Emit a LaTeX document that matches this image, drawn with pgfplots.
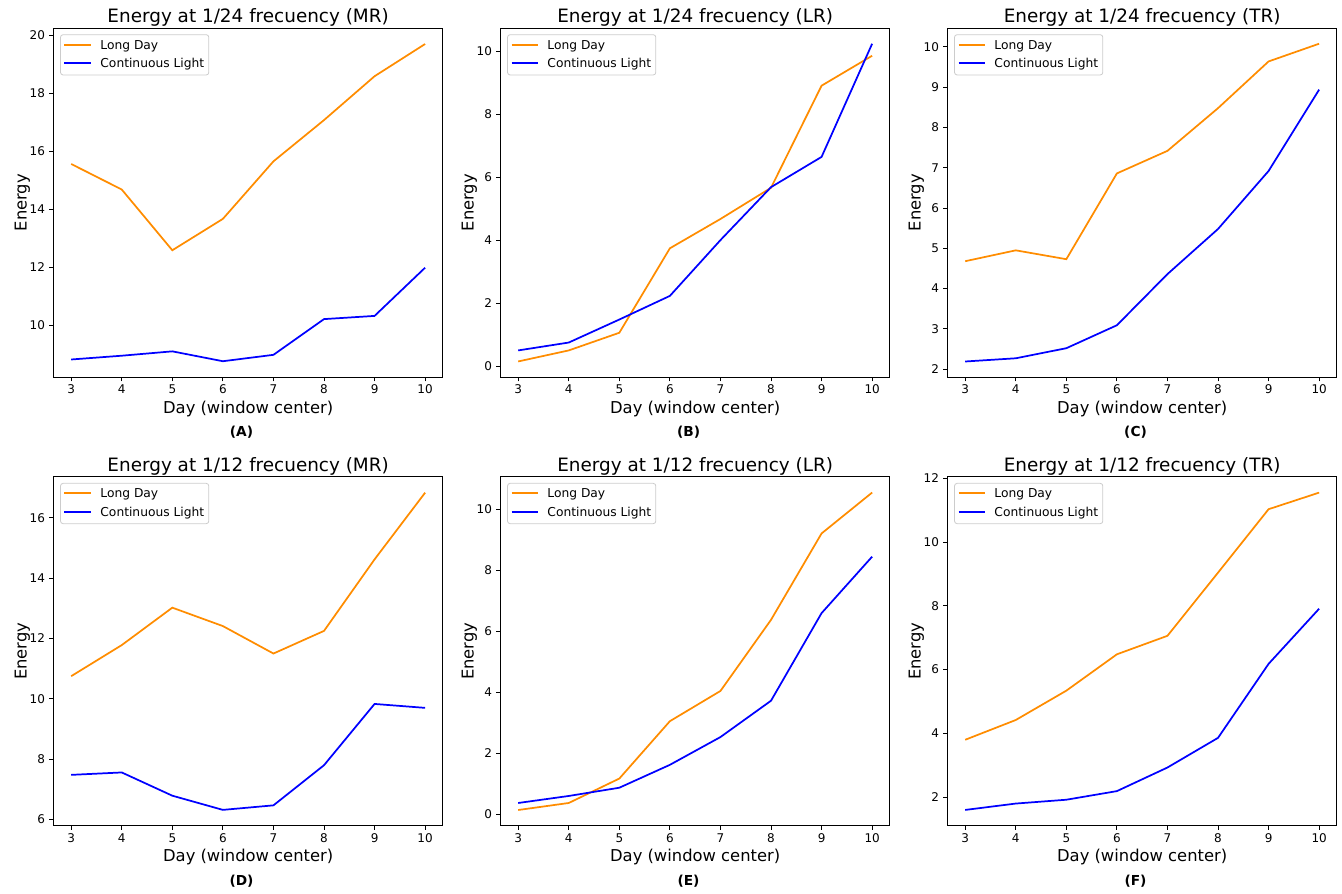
\documentclass[border=0pt]{standalone}
\usepackage{fontspec}
\setmainfont{DejaVu Sans}
\usepackage{pgfplots}
\pgfplotsset{compat=1.18}
\definecolor{ldorange}{HTML}{FF8C00}
\definecolor{clblue}{HTML}{0000FF}
\tikzset{plabel/.style={font=\bfseries\fontsize{10.3pt}{12pt}\selectfont, anchor=base},
  legtext/.style={font=\fontsize{9.2pt}{11pt}\selectfont, anchor=base west, inner sep=0pt, text=black}}
\newcommand\mylegend{%
  \draw[black!20, line width=0.6pt, fill=white, rounded corners=2pt]
    ([xshift=5.25pt,yshift=-5pt]axis description cs:0,1) rectangle ([xshift=116.5pt,yshift=-35.25pt]axis description cs:0,1);
  \draw[ldorange, line width=1.3pt] ([xshift=8.25pt,yshift=-12.5pt]axis description cs:0,1) -- ([xshift=28pt,yshift=-12.5pt]axis description cs:0,1);
  \draw[clblue, line width=1.3pt] ([xshift=8.25pt,yshift=-26.5pt]axis description cs:0,1) -- ([xshift=28pt,yshift=-26.5pt]axis description cs:0,1);
  \node[legtext] at ([xshift=35pt,yshift=-15.85pt]axis description cs:0,1) {Long Day};
  \node[legtext] at ([xshift=35pt,yshift=-29.85pt]axis description cs:0,1) {Continuous Light};
}
\pgfplotsset{
  every axis title/.style={at={(axis description cs:0.5,1)}, anchor=base, yshift=4pt, font=\fontsize{13.8pt}{16pt}\selectfont},
  LD/.style={color=ldorange, line width=1.3pt},
  CL/.style={color=clblue, line width=1.3pt},
  panel/.style={
    scale only axis, width=292pt, height=261.9pt, anchor=north west,
    xmin=2.65, xmax=10.35, xtick={3,...,10},
    tick align=outside, tick pos=left, major tick length=3.05pt,
    tick style={black, line width=0.7pt},
    axis line style={line width=0.7pt},
    /pgf/number format/assume math mode=true,
    every tick label/.append style={font=\fontsize{9pt}{10pt}\selectfont},
    xticklabel style={anchor=north, inner sep=0pt, yshift=-2.5pt},
    yticklabel style={anchor=east, inner sep=0pt, xshift=-3.2pt},
    xlabel={Day (window center)}, ylabel={Energy},
    xlabel style={at={(axis description cs:0.5,0)}, anchor=base, yshift=-27pt, font=\fontsize{12.26pt}{14pt}\selectfont},
    ylabel style={at={([xshift=-20.2pt]axis description cs:0,0.5)}, anchor=base, font=\fontsize{12.26pt}{14pt}\selectfont},
    no markers,
    clip mode=individual,
  },
}
\begin{document}
\begin{tikzpicture}
\useasboundingbox (0,0) rectangle (1006.5pt,-669.75pt);
% (A)
\begin{axis}[panel, at={(40.125pt,-21pt)}, title={Energy at 1/24 frecuency (MR)},
  ymin=8.22, ymax=20.24, ytick={10,12,...,20}]
\addplot[LD] coordinates {(3,15.56) (4,14.68) (5,12.59) (6,13.67) (7,15.65) (8,17.07) (9,18.58) (10,19.69)};
\addplot[CL] coordinates {(3,8.83) (4,8.96) (5,9.11) (6,8.77) (7,8.99) (8,10.22) (9,10.33) (10,11.99)};
\mylegend
\node[plabel] at ([yshift=-44.8pt]rel axis cs:0.483,0) {(A)};
\end{axis}
% (B)
\begin{axis}[panel, at={(375.375pt,-21pt)}, title={Energy at 1/24 frecuency (LR)},
  ymin=-0.34, ymax=10.74, ytick={0,2,...,10}]
\addplot[LD] coordinates {(3,0.16) (4,0.51) (5,1.07) (6,3.75) (7,4.68) (8,5.67) (9,8.91) (10,9.86)};
\addplot[CL] coordinates {(3,0.51) (4,0.76) (5,1.49) (6,2.24) (7,4.01) (8,5.69) (9,6.65) (10,10.24)};
\mylegend
\node[plabel] at ([yshift=-44.8pt]rel axis cs:0.483,0) {(B)};
\end{axis}
% (C)
\begin{axis}[panel, at={(710.625pt,-21pt)}, title={Energy at 1/24 frecuency (TR)},
  ymin=1.80, ymax=10.47, ytick={2,3,...,10}]
\addplot[LD] coordinates {(3,4.68) (4,4.95) (5,4.73) (6,6.86) (7,7.42) (8,8.48) (9,9.64) (10,10.08)};
\addplot[CL] coordinates {(3,2.19) (4,2.27) (5,2.52) (6,3.09) (7,4.36) (8,5.48) (9,6.92) (10,8.94)};
\mylegend
\node[plabel] at ([yshift=-44.8pt]rel axis cs:0.483,0) {(C)};
\end{axis}
% (D)
\begin{axis}[panel, at={(40.125pt,-357.5pt)}, title={Energy at 1/12 frecuency (MR)},
  ymin=5.79, ymax=17.36, ytick={6,8,...,16}]
\addplot[LD] coordinates {(3,10.75) (4,11.78) (5,13.02) (6,12.41) (7,11.50) (8,12.25) (9,14.62) (10,16.83)};
\addplot[CL] coordinates {(3,7.48) (4,7.56) (5,6.79) (6,6.32) (7,6.47) (8,7.80) (9,9.83) (10,9.70)};
\mylegend
\node[plabel] at ([yshift=-44.8pt]rel axis cs:0.483,0) {(D)};
\end{axis}
% (E)
\begin{axis}[panel, at={(375.375pt,-357.5pt)}, title={Energy at 1/12 frecuency (LR)},
  ymin=-0.37, ymax=11.07, ytick={0,2,...,10}]
\addplot[LD] coordinates {(3,0.15) (4,0.38) (5,1.18) (6,3.06) (7,4.05) (8,6.38) (9,9.21) (10,10.55)};
\addplot[CL] coordinates {(3,0.38) (4,0.61) (5,0.88) (6,1.63) (7,2.54) (8,3.73) (9,6.60) (10,8.45)};
\mylegend
\node[plabel] at ([yshift=-44.8pt]rel axis cs:0.483,0) {(E)};
\end{axis}
% (F)
\begin{axis}[panel, at={(710.625pt,-357.5pt)}, title={Energy at 1/12 frecuency (TR)},
  ymin=1.10, ymax=12.05, ytick={2,4,...,12}]
\addplot[LD] coordinates {(3,3.80) (4,4.42) (5,5.34) (6,6.48) (7,7.06) (8,9.04) (9,11.03) (10,11.55)};
\addplot[CL] coordinates {(3,1.60) (4,1.80) (5,1.92) (6,2.19) (7,2.93) (8,3.86) (9,6.18) (10,7.91)};
\mylegend
\node[plabel] at ([yshift=-44.8pt]rel axis cs:0.483,0) {(F)};
\end{axis}
\end{tikzpicture}
\end{document}
